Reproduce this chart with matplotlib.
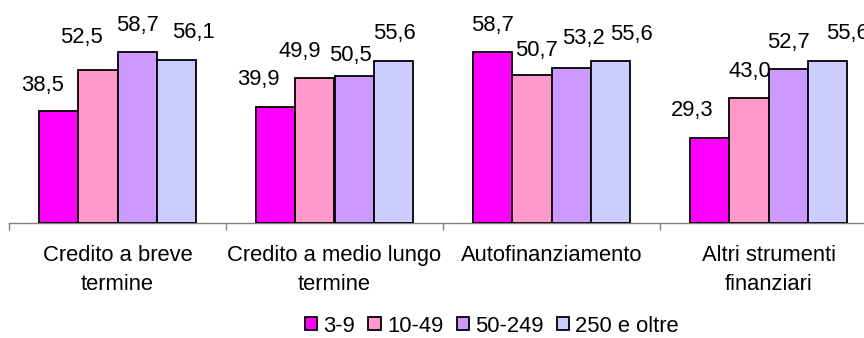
import matplotlib
matplotlib.use("Agg")
import matplotlib.pyplot as plt
import numpy as np

plt.rcParams['font.family'] = ['Liberation Sans', 'DejaVu Sans']

categories = ["Credito a breve\ntermine", "Credito a medio lungo\ntermine",
              "Autofinanziamento", "Altri strumenti\nfinanziari"]
series_names = ["3-9", "10-49", "50-249", "250 e oltre"]
s_3_9 = [38.5, 39.9, 58.7, 29.3]
s_10_49 = [52.5, 49.9, 50.7, 43.0]
s_50_249 = [58.7, 50.5, 53.2, 52.7]
s_250 = [56.1, 55.6, 55.6, 55.6]
series = [s_3_9, s_10_49, s_50_249, s_250]
colors = ["#FF00FF", "#FF99CC", "#CC99FF", "#CCCCFF"]

# label nudges in pixels (dx, dy above bar top), per series then category
label_dx = [[-16, -17, 0, -17],
            [-16, -15, 5, 1],
            [0, -4, 12, 0],
            [17, 1, 21, 20]]
label_dy = [[25, 27, 26, 27],
            [33, 26, 25, 26],
            [26, 20, 29, 27],
            [27, 27, 26, 27]]

FS = 15.8

fig = plt.figure(figsize=(8.64, 3.38), dpi=100)
ax = fig.add_axes([9 / 864, 1 - 223 / 338, 868 / 864, 204 / 338])

x = np.arange(len(categories))
bw = 0.182
for i, (vals, col) in enumerate(zip(series, colors)):
    pos = x + (i - 1.5) * bw
    ax.bar(pos, vals, width=bw, color=col, edgecolor="black",
           linewidth=1.3, label=series_names[i], zorder=3)
    for j, (p, v) in enumerate(zip(pos, vals)):
        ax.annotate(f"{v:.1f}".replace(".", ","), (p, v),
                    xytext=(label_dx[i][j], label_dy[i][j]),
                    textcoords="offset pixels", ha="center", va="center",
                    fontsize=FS, color="black")

ax.set_xlim(-0.5, len(categories) - 0.5)
ax.set_ylim(0, 70)
for s in ["top", "right", "left"]:
    ax.spines[s].set_visible(False)
ax.spines["bottom"].set_color("#808080")
ax.spines["bottom"].set_linewidth(1.0)
ax.set_yticks([])
ax.set_xticks(x)
ax.set_xticklabels(categories, fontsize=FS, linespacing=1.55)
ax.tick_params(axis="x", which="major", length=0, pad=15.5)
ax.set_xticks(np.arange(-0.5, len(categories), 1.0), minor=True)
ax.tick_params(axis="x", which="minor", length=5, color="#808080",
               width=1.0, direction="out")

fig.legend(loc="center", bbox_to_anchor=(492 / 864, 1 - 326 / 338), ncol=4,
           frameon=False, fontsize=FS, handlelength=0.55, handleheight=0.55,
           handletextpad=0.3, columnspacing=0.6, borderpad=0)

fig.savefig("out.png", dpi=100)
